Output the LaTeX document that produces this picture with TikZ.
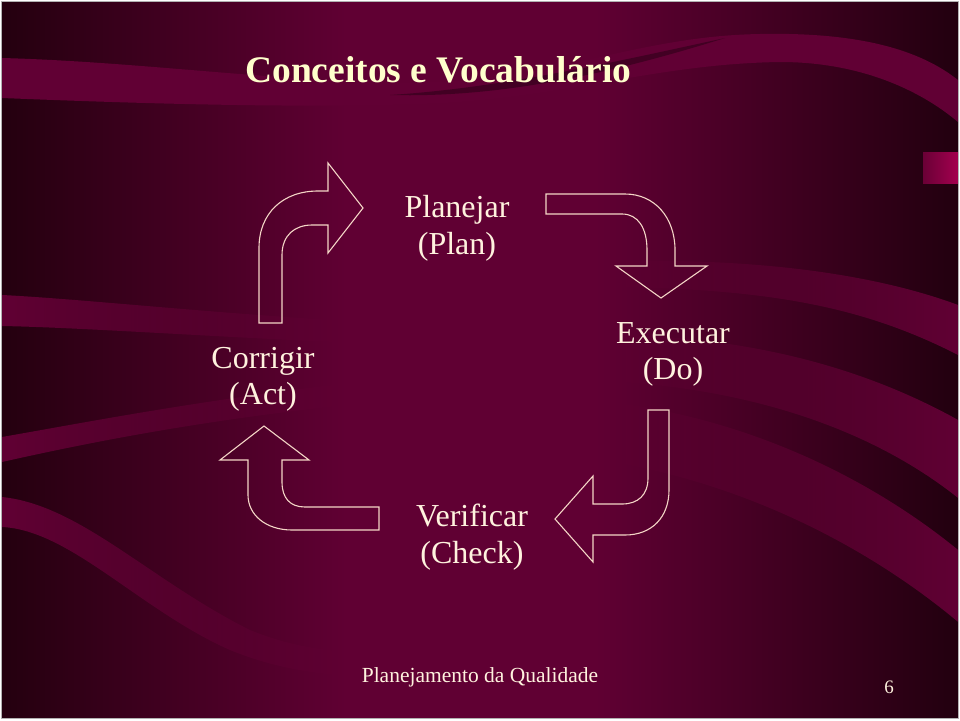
\documentclass[tikz,border=0pt]{standalone}
\usepackage{fontspec}
\setmainfont{Liberation Serif}
\usetikzlibrary{fadings}
\definecolor{bgdark}{HTML}{24000F}
\definecolor{bgdarkr}{HTML}{22000F}
\definecolor{bgmid}{HTML}{600033}
\definecolor{ribboncol}{HTML}{610034}
\definecolor{shadowcol}{HTML}{2A0016}
\definecolor{titlecol}{HTML}{FFFFCC}
\definecolor{textcol}{HTML}{FFF2DE}
\definecolor{arrowcol}{HTML}{F4D6C6}
\definecolor{tabcol}{HTML}{A4004F}
\definecolor{tabdim}{HTML}{6A0036}
\pgfdeclarehorizontalshading{slidebg}{100bp}{color(0bp)=(bgdark); color(25bp)=(bgdark); color(43bp)=(bgmid); color(56bp)=(bgmid); color(75bp)=(bgdarkr); color(100bp)=(bgdarkr)}
\tikzfading[name=fadeoutright, left color=transparent!0, middle color=transparent!0, right color=transparent!100]
\tikzfading[name=fadeoutleft, left color=transparent!100, middle color=transparent!0, right color=transparent!0]
\tikzset{
  ribbon/.style={fill=ribboncol},
  cyclearrow/.style={draw=arrowcol, line width=1.1pt, line join=miter},
  lbl/.style={anchor=base, inner sep=0pt, text=textcol, font=\fontsize{32}{37}\selectfont},
}
\begin{document}
\begin{tikzpicture}[x=1pt,y=-1pt]
\useasboundingbox (0,0) rectangle (960,720);
\fill[white] (0,0) rectangle (960,720);
% background
\shade[shading=slidebg] (2,2) rectangle (958,718);
% ribbons
\fill[ribbon] (2,58) .. controls (150,62) and (300,85) .. (430,82)
  .. controls (560,78) and (640,36) .. (760,34)
  .. controls (860,32) and (920,50) .. (958,80) -- (958,122)
  .. controls (920,90) and (860,62) .. (780,62)
  .. controls (650,64) and (560,100) .. (420,104)
  .. controls (300,108) and (150,104) .. (2,98) -- cycle;
\fill[shadowcol, opacity=0.55] (390,95) .. controls (500,98) and (610,74) .. (725,38)
  .. controls (610,63) and (500,88) .. (390,95) -- cycle;
\fill[ribbon, path fading=fadeoutright] (2,295) .. controls (100,300) and (250,318) .. (460,327) -- (460,347)
  .. controls (250,340) and (100,328) .. (2,326) -- cycle;
\fill[ribbon, path fading=fadeoutright] (2,437) .. controls (100,420) and (250,390) .. (460,372) -- (460,395)
  .. controls (250,410) and (100,440) .. (2,462) -- cycle;
\fill[ribbon, path fading=fadeoutright] (2,497) .. controls (80,505) and (150,580) .. (250,630)
  .. controls (300,650) and (340,655) .. (460,655) -- (460,680)
  .. controls (330,680) and (280,670) .. (230,650)
  .. controls (140,610) and (70,530) .. (2,527) -- cycle;
\fill[ribbon, path fading=fadeoutleft] (560,264) .. controls (700,255) and (850,265) .. (958,305) -- (958,355)
  .. controls (860,305) and (760,285) .. (560,287) -- cycle;
\fill[ribbon, path fading=fadeoutleft] (560,335) .. controls (720,330) and (850,360) .. (958,420) -- (958,498)
  .. controls (860,420) and (720,380) .. (560,380) -- cycle;
\fill[ribbon, path fading=fadeoutleft] (560,398) .. controls (720,405) and (860,470) .. (958,550) -- (958,622)
  .. controls (860,540) and (720,470) .. (560,455) -- cycle;
% side tab
\shade[left color=tabdim, right color=tabcol] (923,152) rectangle (958,183);
% frame
\draw[gray!60, line width=0.8pt] (1.5,1.5) rectangle (958.5,718.5);
% title
\node[anchor=base west, inner sep=0pt, text=titlecol, font=\bfseries\fontsize{37.5}{40}\selectfont] (title) at (245,82) {Conceitos e Vocabulário};
% labels
\node[lbl] (plan) at (457,217) {Planejar};
\node[lbl] (plansub) at (457,254) {(Plan)};
\node[lbl] (do) at (673,343) {Executar};
\node[lbl] (dosub) at (673,379) {(Do)};
\node[lbl] (act) at (263,368) {Corrigir};
\node[lbl] (actsub) at (263,404) {(Act)};
\node[lbl] (check) at (472,526) {Verificar};
\node[lbl] (checksub) at (472,563) {(Check)};
% cycle arrows
\draw[cyclearrow] (259,323) -- (259,248) .. controls (259,213) and (283,191) .. (318,191)
  -- (328,191) -- (328,163) -- (363,208) -- (328,253) -- (328,225) -- (312,225)
  .. controls (295,225) and (282,235) .. (282,255) -- (282,323) -- cycle;
\draw[cyclearrow] (546,194) -- (625,194) .. controls (655,194) and (675,218) .. (675,250)
  -- (675,266) -- (707,266) -- (661,298) -- (616,266) -- (647,266) -- (647,250)
  .. controls (647,228) and (638,214) .. (622,214) -- (546,214) -- cycle;
\draw[cyclearrow] (648,410) -- (669,410) -- (669,490) .. controls (669,517) and (652,535) .. (625,535)
  -- (593,535) -- (593,562) -- (555,519) -- (593,476) -- (593,504) -- (622,504)
  .. controls (638,504) and (648,495) .. (648,478) -- cycle;
\draw[cyclearrow] (264,426) -- (309,460) -- (282,460) -- (282,482)
  .. controls (282,498) and (290,507) .. (305,507) -- (379,507) -- (379,530) -- (292,530)
  .. controls (266,530) and (248,515) .. (248,495) -- (248,460) -- (220,460) -- cycle;
% footer
\node[anchor=base, inner sep=0pt, text=textcol, font=\fontsize{21.5}{24}\selectfont] (footer) at (480,682) {Planejamento da Qualidade};
\node[anchor=base, inner sep=0pt, text=textcol, font=\fontsize{19}{22}\selectfont] (pagenum) at (889,693) {6};
\end{tikzpicture}
\end{document}
